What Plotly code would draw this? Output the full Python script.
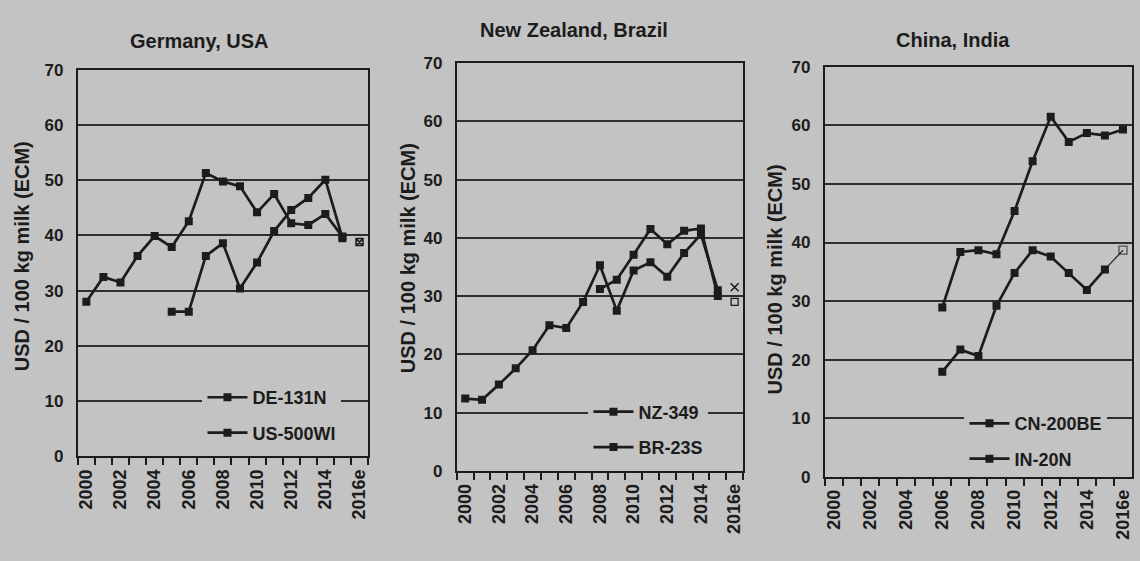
import plotly.graph_objects as go

# ---- data: USD / 100 kg milk (ECM) ----
year_cats = [str(y) for y in range(2000, 2016)] + ["2016e"]
year_ticktext = [c if i % 2 == 0 else "" for i, c in enumerate(year_cats)]

de_years = [str(y) for y in range(2000, 2016)]
de_131n = [28.0, 32.5, 31.5, 36.3, 39.9, 37.9, 42.6, 51.3, 49.8, 48.9, 44.2, 47.5, 42.2, 41.9, 43.9, 39.8]
us_years = [str(y) for y in range(2005, 2016)]
us_500wi = [26.2, 26.2, 36.3, 38.6, 30.4, 35.1, 40.8, 44.6, 46.8, 50.1, 39.5]
de_2016e = 38.8

nz_years = [str(y) for y in range(2000, 2016)]
nz_349 = [12.4, 12.2, 14.8, 17.6, 20.7, 25.0, 24.5, 29.0, 35.3, 27.5, 34.4, 35.8, 33.3, 37.4, 40.6, 31.0]
br_years = [str(y) for y in range(2008, 2016)]
br_23s = [31.2, 32.8, 37.1, 41.5, 38.9, 41.2, 41.6, 30.0]
nz_2016e = 31.5
br_2016e = 29.0

cn_years = [str(y) for y in range(2006, 2016)] + ["2016e"]
cn_200be = [28.9, 38.4, 38.7, 38.0, 45.4, 53.9, 61.5, 57.2, 58.7, 58.3, 59.3]
in_years = [str(y) for y in range(2006, 2016)]
in_20n = [17.9, 21.7, 20.6, 29.2, 34.8, 38.7, 37.6, 34.8, 31.9, 35.4]
in_2016e = 38.7

# ---- styling ----
W, H = 1140, 561
BG = "#c3c3c3"
INK = "#1c1c1c"
GRID = "#2e2e2e"
FONT = "Liberation Sans"


def px_x(v):
    return v / W


def px_y(v):
    return 1 - v / H


# plot boxes in pixels: (left, right, top, bottom)
boxes = [(76, 367, 63, 463), (456, 743, 56, 478), (825, 1133, 60, 484)]

fig = go.Figure()

line_style = dict(color=INK, width=2.7)
marker_style = dict(symbol="square", size=8, color=INK)


def series(x, y, name, ax, legend, group):
    fig.add_trace(go.Scatter(
        x=x, y=y, name=name, mode="lines+markers",
        line=line_style, marker=marker_style,
        xaxis=ax[0], yaxis=ax[1], legend=legend, legendgroup=group,
    ))


# Germany, USA
series(de_years, de_131n, "DE-131N", ("x", "y"), "legend", "de")
series(us_years, us_500wi, "US-500WI", ("x", "y"), "legend", "us")
fig.add_trace(go.Scatter(
    x=["2016e"], y=[de_2016e], mode="markers", showlegend=False,
    marker=dict(symbol="square-x-open", size=7, color=INK, line=dict(width=1.5, color=INK)),
    xaxis="x", yaxis="y"))

# New Zealand, Brazil
series(nz_years, nz_349, "NZ-349", ("x2", "y2"), "legend2", "nz")
series(br_years, br_23s, "BR-23S", ("x2", "y2"), "legend2", "br")
fig.add_trace(go.Scatter(
    x=["2016e"], y=[nz_2016e], mode="markers", showlegend=False,
    marker=dict(symbol="x-thin-open", size=8, color=INK, line=dict(width=1.5, color=INK)),
    xaxis="x2", yaxis="y2"))
fig.add_trace(go.Scatter(
    x=["2016e"], y=[br_2016e], mode="markers", showlegend=False,
    marker=dict(symbol="square-open", size=7, color=INK, line=dict(width=1.3, color=INK)),
    xaxis="x2", yaxis="y2"))

# China, India
series(cn_years, cn_200be, "CN-200BE", ("x3", "y3"), "legend3", "cn")
series(in_years, in_20n, "IN-20N", ("x3", "y3"), "legend3", "in")
fig.add_trace(go.Scatter(
    x=[in_years[-1], "2016e"], y=[in_20n[-1], in_2016e], mode="lines+markers", showlegend=False,
    line=dict(color=INK, width=1.2),
    marker=dict(symbol="square-open", size=[0, 8], color=INK, line=dict(width=1.3, color=INK)),
    xaxis="x3", yaxis="y3"))

# ---- axes ----
for i, (l, r, t, b) in enumerate(boxes):
    sfx = "" if i == 0 else str(i + 1)
    fig.update_layout({
        "xaxis" + sfx: dict(
            domain=[px_x(l), px_x(r)], anchor="y" + sfx,
            type="category", categoryorder="array", categoryarray=year_cats,
            range=[-0.5, len(year_cats) - 0.5],
            tickmode="array", tickvals=year_cats, ticktext=year_ticktext,
            tickson="boundaries", ticks="outside", ticklen=7, tickwidth=1.6, tickcolor=INK,
            tickangle=-90, showgrid=False, zeroline=False,
            showline=True, mirror=True, linecolor=INK, linewidth=2,
            tickfont=dict(family=FONT, size=18, color=INK, weight="bold"),
            ticklabelstandoff=4,
        ),
        "yaxis" + sfx: dict(
            domain=[px_y(b), px_y(t)], anchor="x" + sfx,
            range=[0, 70], tickmode="linear", tick0=0, dtick=10,
            ticks="", showgrid=True, gridcolor=GRID, gridwidth=1.5, zeroline=False,
            showline=True, mirror=True, linecolor=INK, linewidth=2,
            tickfont=dict(family=FONT, size=17, color=INK, weight="bold"),
            ticklabelstandoff=9,
        ),
    })

# ---- legends ----
legend_pos = [(201, 383), (588, 398), (965, 410)]
for i, (lx, ly) in enumerate(legend_pos):
    key = "legend" if i == 0 else "legend" + str(i + 1)
    fig.update_layout({key: dict(
        x=px_x(lx), y=px_y(ly), xanchor="left", yanchor="top",
        xref="paper", yref="paper",
        bgcolor=BG, borderwidth=0, traceorder="grouped", tracegroupgap=9,
        font=dict(family=FONT, size=18, color=INK, weight="bold"),
        itemwidth=40,
    )})

# ---- titles ----
titles = [("Germany, USA", 198, 33), ("New Zealand, Brazil", 574, 22), ("China, India", 954, 32)]
for text, cx, cy in titles:
    fig.add_annotation(text=text, x=px_x(cx), y=px_y(cy), xref="paper", yref="paper",
                       showarrow=False, xanchor="center", yanchor="middle",
                       font=dict(family=FONT, size=20, color=INK, weight="bold"))

ytitle = "USD / 100 kg milk (ECM)"
for cx, cy in [(20, 256), (407, 258), (775, 280)]:
    fig.add_annotation(text=ytitle, x=px_x(cx), y=px_y(cy), xref="paper", yref="paper",
                       showarrow=False, textangle=-90, xanchor="center", yanchor="middle",
                       font=dict(family=FONT, size=20, color=INK, weight="bold"))

fig.update_layout(
    width=W, height=H, margin=dict(l=0, r=0, t=0, b=0),
    paper_bgcolor=BG, plot_bgcolor=BG,
    font=dict(family=FONT, color=INK),
    showlegend=True,
)

fig.write_html("out.html")
